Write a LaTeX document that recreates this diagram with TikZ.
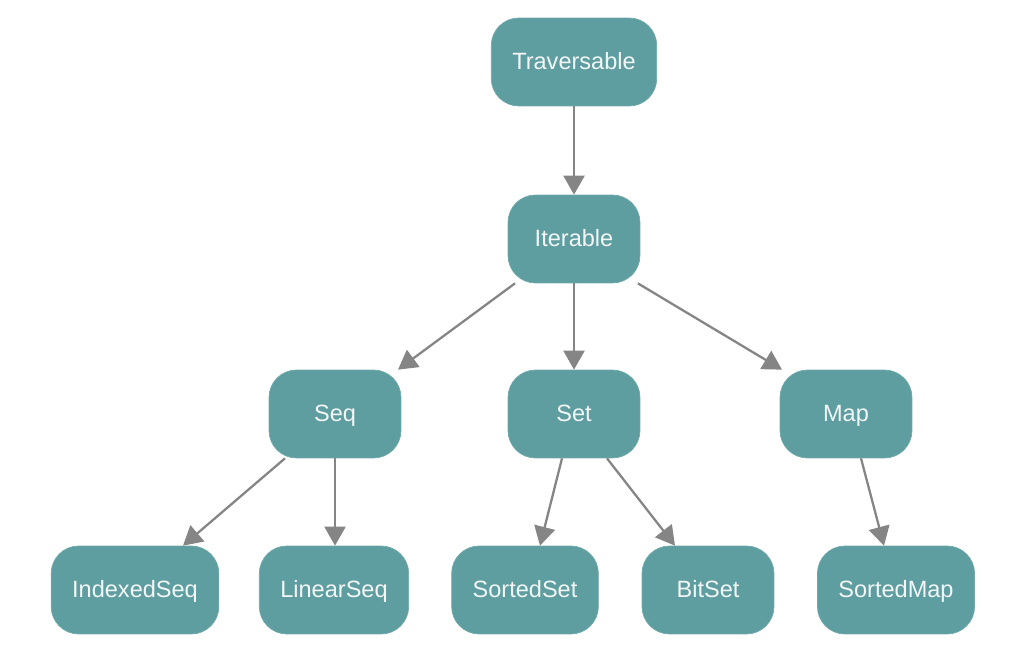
\documentclass[tikz,border=0pt]{standalone}
\usepackage{fontspec}
\setmainfont{Liberation Sans}
\usetikzlibrary{arrows.meta,positioning}

\definecolor{boxfill}{HTML}{5F9EA0}
\definecolor{boxline}{HTML}{6FA9AB}
\definecolor{boxtext}{HTML}{F2F6F6}
\definecolor{edgegray}{HTML}{858585}

\begin{document}
\begin{tikzpicture}
      [
        x=0.02cm, y=-0.02cm,
        boxstyle/.style={draw=boxline, fill=boxfill, text=boxtext,
          rounded corners=0.55cm, minimum height=1.76cm,
          minimum width=2.64cm, inner xsep=0.42cm,
          text height=2ex, text depth=0.4ex,
          font=\fontsize{13.4}{15}\selectfont},
        arrowstyle/.style={draw=edgegray, line width=1.3pt,
          -{Triangle[length=3.8mm,width=4.2mm]}}
      ]
      \useasboundingbox (0,0) rectangle (1011,658);

      \node[boxstyle] (trav) at (574,62) {Traversable};
      \node[boxstyle] (iter) at (574,239) {Iterable};

      \node[boxstyle] (seq) at (335,414) {Seq};
      \node[boxstyle] (set) at (574,414) {Set};
      \node[boxstyle] (map) at (846,414) {Map};

      \node[boxstyle] (idx) at (135,590) {IndexedSeq};
      \node[boxstyle] (lin) at (334,590) {LinearSeq};
      \node[boxstyle] (sset) at (525,590) {SortedSet};
      \node[boxstyle] (bset) at (708,590) {BitSet};
      \node[boxstyle] (smap) at (896,590) {SortedMap};

      \draw[arrowstyle] (trav.south) -- (iter.north);
      \draw[arrowstyle] ([xshift=-1.18cm]iter.south) -- ([xshift=1.26cm]seq.north);
      \draw[arrowstyle] (iter.south) -- (set.north);
      \draw[arrowstyle] ([xshift=-0.05cm]iter.south east) -- ([xshift=-1.28cm]map.north);

      \draw[arrowstyle] ([xshift=-1cm]seq.south) -- ([xshift=0.96cm]idx.north);
      \draw[arrowstyle] (seq.south) -- (seq.south |- lin.north);
      \draw[arrowstyle] ([xshift=-0.24cm]set.south) -- ([xshift=0.3cm]sset.north);
      \draw[arrowstyle] ([xshift=0.66cm]set.south) -- ([xshift=-0.66cm]bset.north);
      \draw[arrowstyle] ([xshift=0.3cm]map.south) -- ([xshift=-0.24cm]smap.north);

    \end{tikzpicture}
\end{document}
